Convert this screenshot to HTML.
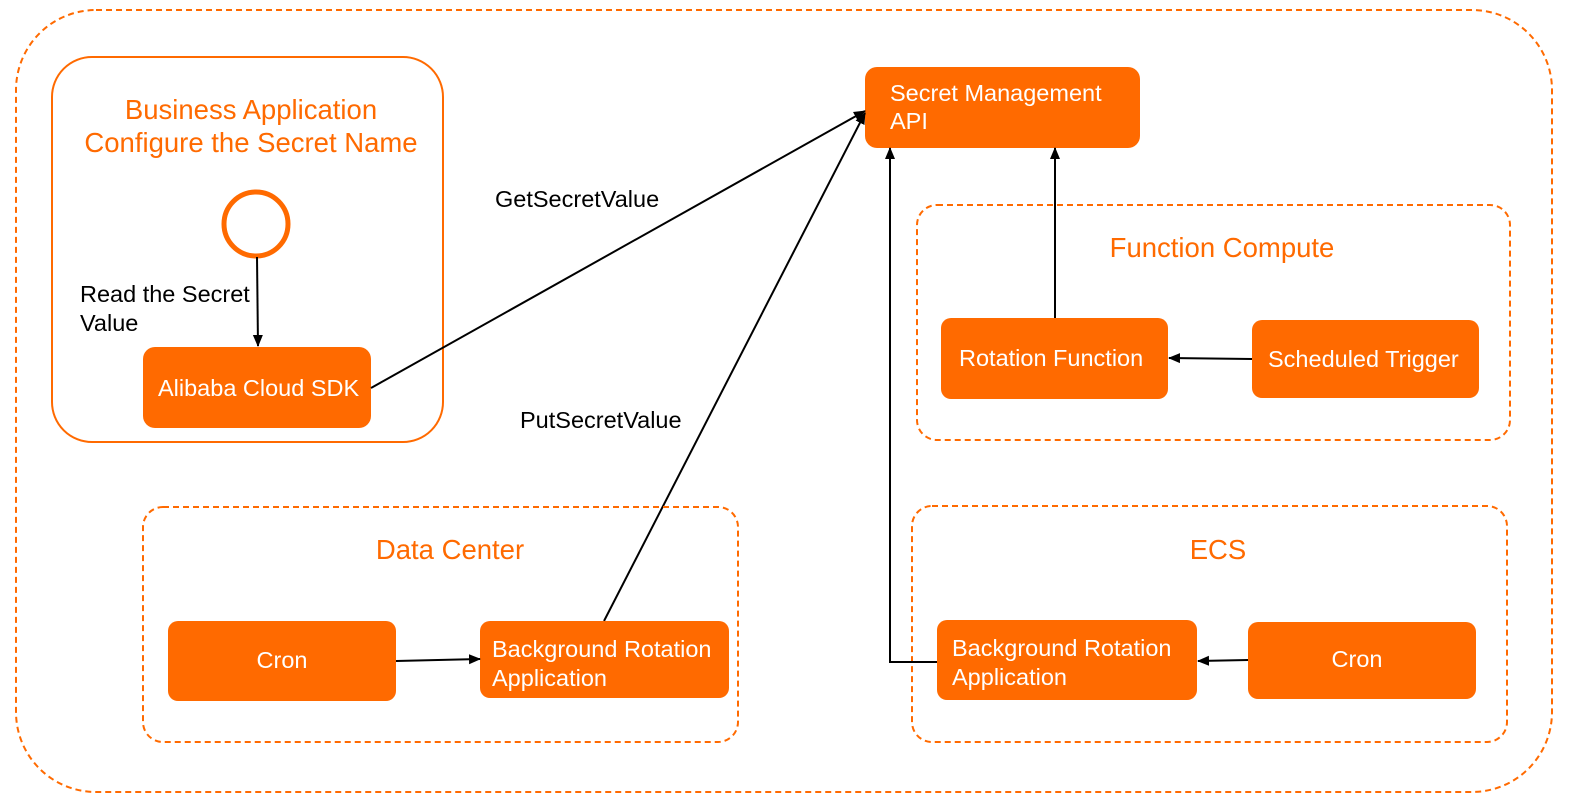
<!DOCTYPE html>
<html><head><meta charset="utf-8"><style>
html,body{margin:0;padding:0;background:#fff;}
svg{display:block;font-family:"Liberation Sans",Arial,sans-serif;}
.w{fill:#fff;font-size:23.5px;}
.o{fill:#FF6A00;font-size:27.5px;}
.b{fill:#000;font-size:23.5px;}
</style></head><body>
<svg width="1569" height="809" viewBox="0 0 1569 809" xmlns="http://www.w3.org/2000/svg">
<defs><marker id="a" markerWidth="12" markerHeight="12" refX="11" refY="6" orient="auto" markerUnits="userSpaceOnUse"><path d="M0,1 L12,6 L0,11 z" fill="#000"/></marker></defs>
<rect x="16" y="10" width="1536" height="782" rx="80" fill="none" stroke="#FF6A00" stroke-width="2" stroke-dasharray="6,4"/>
<rect x="52" y="57" width="391" height="385" rx="40" fill="none" stroke="#FF6A00" stroke-width="2"/>
<text class="o" x="251" y="119" text-anchor="middle">Business Application</text>
<text class="o" x="251" y="152" text-anchor="middle">Configure the Secret Name</text>
<circle cx="256" cy="224" r="32" fill="#fff" stroke="#FF6A00" stroke-width="5"/>
<line x1="257" y1="257" x2="258" y2="346" stroke="#000" stroke-width="2" marker-end="url(#a)"/>
<text class="b" x="80" y="302">Read the Secret</text>
<text class="b" x="80" y="331">Value</text>
<rect x="143" y="347" width="228" height="81" rx="12" fill="#FF6A00"/>
<text class="w" x="158" y="396">Alibaba Cloud SDK</text>
<rect x="865" y="67" width="275" height="81" rx="12" fill="#FF6A00"/>
<text class="w" x="890" y="101">Secret Management</text>
<text class="w" x="890" y="129">API</text>
<line x1="371" y1="388" x2="865" y2="111" stroke="#000" stroke-width="2" marker-end="url(#a)"/>
<text class="b" x="495" y="207">GetSecretValue</text>
<text class="b" x="520" y="428">PutSecretValue</text>
<line x1="604" y1="621" x2="865" y2="113" stroke="#000" stroke-width="2" marker-end="url(#a)"/>
<rect x="917" y="205" width="593" height="235" rx="20" fill="none" stroke="#FF6A00" stroke-width="2" stroke-dasharray="6,4"/>
<text class="o" x="1222" y="257" text-anchor="middle">Function Compute</text>
<rect x="941" y="318" width="227" height="81" rx="10" fill="#FF6A00"/>
<text class="w" x="959" y="366">Rotation Function</text>
<rect x="1252" y="320" width="227" height="78" rx="10" fill="#FF6A00"/>
<text class="w" x="1268" y="367">Scheduled Trigger</text>
<line x1="1252" y1="359" x2="1169" y2="358" stroke="#000" stroke-width="2" marker-end="url(#a)"/>
<line x1="1055" y1="318" x2="1055" y2="148" stroke="#000" stroke-width="2" marker-end="url(#a)"/>
<rect x="912" y="506" width="595" height="236" rx="20" fill="none" stroke="#FF6A00" stroke-width="2" stroke-dasharray="6,4"/>
<text class="o" x="1218" y="559" text-anchor="middle">ECS</text>
<polyline points="937,662 890,662 890,148" fill="none" stroke="#000" stroke-width="2" marker-end="url(#a)"/>
<rect x="937" y="620" width="260" height="80" rx="10" fill="#FF6A00"/>
<text class="w" x="952" y="656">Background Rotation</text>
<text class="w" x="952" y="685">Application</text>
<rect x="1248" y="622" width="228" height="77" rx="10" fill="#FF6A00"/>
<text class="w" x="1357" y="667" text-anchor="middle">Cron</text>
<line x1="1248" y1="660" x2="1198" y2="661" stroke="#000" stroke-width="2" marker-end="url(#a)"/>
<rect x="143" y="507" width="595" height="235" rx="20" fill="none" stroke="#FF6A00" stroke-width="2" stroke-dasharray="6,4"/>
<text class="o" x="450" y="559" text-anchor="middle">Data Center</text>
<rect x="168" y="621" width="228" height="80" rx="10" fill="#FF6A00"/>
<text class="w" x="282" y="668" text-anchor="middle">Cron</text>
<rect x="480" y="621" width="249" height="77" rx="10" fill="#FF6A00"/>
<text class="w" x="492" y="657">Background Rotation</text>
<text class="w" x="492" y="686">Application</text>
<line x1="396" y1="661" x2="480" y2="659" stroke="#000" stroke-width="2" marker-end="url(#a)"/>
</svg>
</body></html>
